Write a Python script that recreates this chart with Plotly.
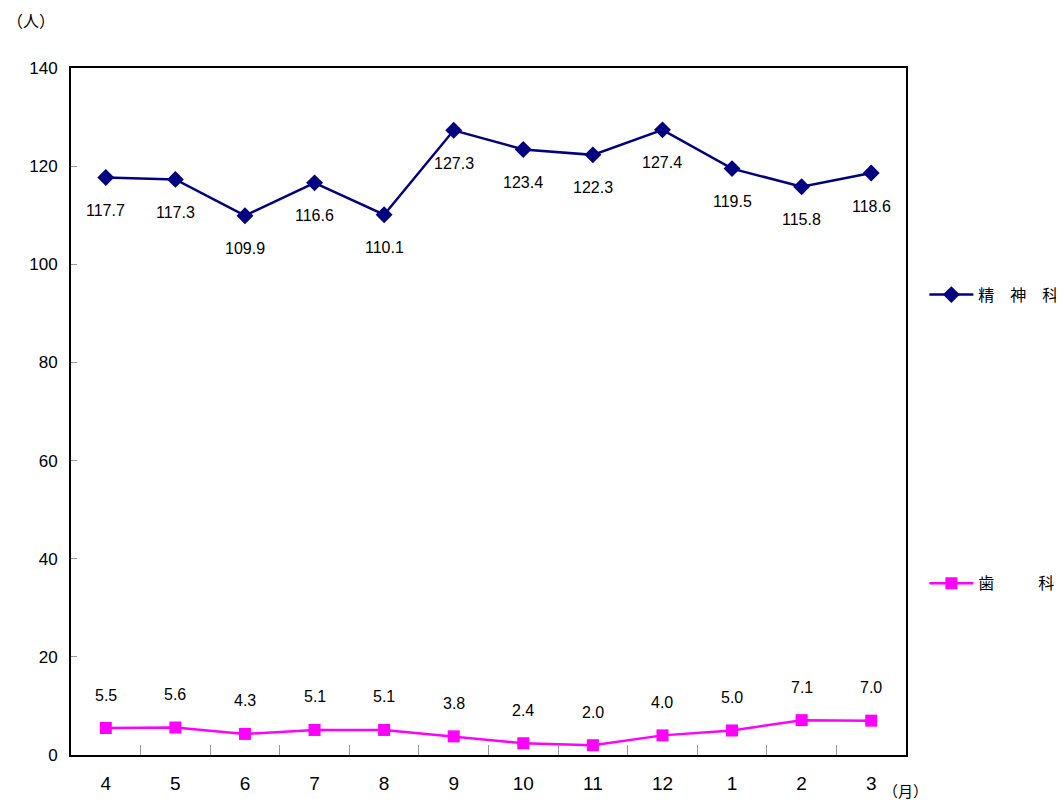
import plotly.graph_objects as go

months = ["4", "5", "6", "7", "8", "9", "10", "11", "12", "1", "2", "3"]
psych = [117.7, 117.3, 109.9, 116.6, 110.1, 127.3, 123.4, 122.3, 127.4, 119.5, 115.8, 118.6]
dental = [5.5, 5.6, 4.3, 5.1, 5.1, 3.8, 2.4, 2.0, 4.0, 5.0, 7.1, 7.0]
psych_name = "精　神　科"
dental_name = "歯　　\u2002\u2005科"

NUMFONT = "Liberation Sans, Arial, sans-serif"
JPFONT = "Noto Sans CJK JP, sans-serif"

fig = go.Figure()
fig.add_trace(go.Scatter(
    x=months, y=psych, mode="lines+markers", name=psych_name,
    line=dict(color="#000080", width=2.5),
    marker=dict(symbol="diamond", size=13, color="#000080"),
    legend="legend",
))
fig.add_trace(go.Scatter(
    x=months, y=dental, mode="lines+markers", name=dental_name,
    line=dict(color="#FF00FF", width=2.5),
    marker=dict(symbol="square", size=12, color="#FF00FF"),
    legend="legend2",
))

for i, v in enumerate(psych):
    fig.add_annotation(x=i, y=v, text=f"{v:.1f}", showarrow=False, yshift=-33,
                       font=dict(family=NUMFONT, size=16, color="#000"))
for i, v in enumerate(dental):
    fig.add_annotation(x=i, y=v, text=f"{v:.1f}", showarrow=False, yshift=33,
                       font=dict(family=NUMFONT, size=16, color="#000"))

fig.add_annotation(xref="paper", yref="paper", x=-0.048, y=1.07, xanchor="center", yanchor="middle",
                   text="（人）", showarrow=False, font=dict(family=JPFONT, size=16, color="#000"))
fig.add_annotation(xref="paper", yref="paper", x=0.999, y=-0.051, xanchor="center", yanchor="middle",
                   text="（月）", showarrow=False, font=dict(family=JPFONT, size=15, color="#000"))

fig.update_layout(
    width=1056, height=795,
    margin=dict(l=63, r=158, t=60, b=48, autoexpand=False),
    plot_bgcolor="white", paper_bgcolor="white",
    showlegend=True,
    legend=dict(x=1.022, y=0.670, xanchor="left", yanchor="middle", itemwidth=44,
                font=dict(family=JPFONT, size=16, color="#000"), bgcolor="rgba(0,0,0,0)"),
    legend2=dict(x=1.022, y=0.250, xanchor="left", yanchor="middle", itemwidth=44,
                 font=dict(family=JPFONT, size=16, color="#000"), bgcolor="rgba(0,0,0,0)"),
    xaxis=dict(type="category", showline=True, linecolor="black", linewidth=2, mirror=True,
               ticks="inside", tickson="boundaries", ticklen=10, tickcolor="#999",
               showgrid=False, tickfont=dict(family=NUMFONT, size=19, color="#000"),
               ticklabelstandoff=10, range=[-0.5, 11.5]),
    yaxis=dict(range=[0, 140], dtick=20, showline=True, linecolor="black", linewidth=2, mirror=True,
               ticks="inside", ticklen=6, tickcolor="#999", showgrid=False, zeroline=False,
               tickfont=dict(family=NUMFONT, size=17, color="#000"), ticklabelstandoff=8),
)

fig.write_html("out.html")
